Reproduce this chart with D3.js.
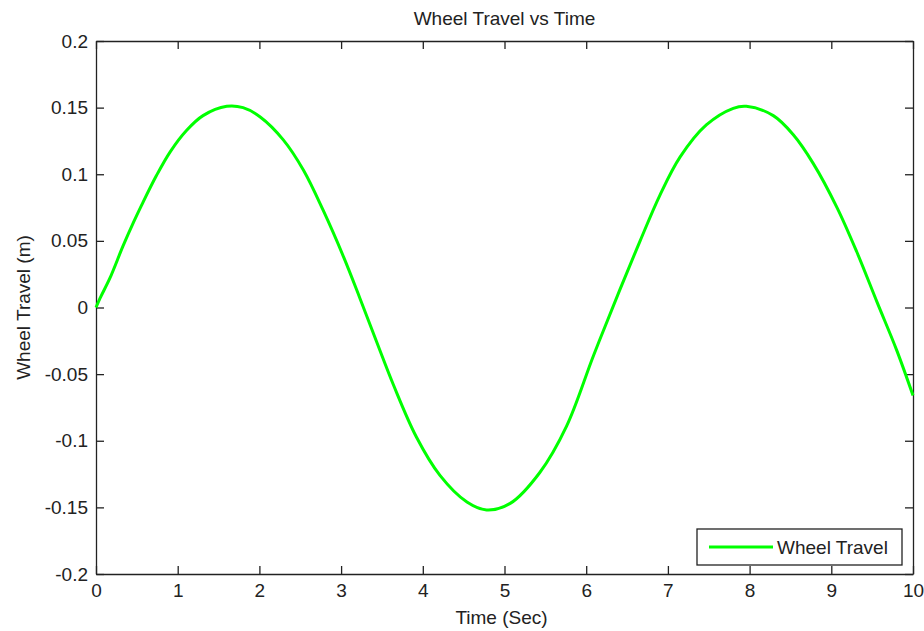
<!DOCTYPE html>
<html>
<head>
<meta charset="utf-8">
<script src="https://cdn.jsdelivr.net/npm/d3@7"></script>
<style>
  body { margin: 0; background: #fff; }
  svg text { font-family: "Liberation Sans", Arial, sans-serif; fill: #222; }
</style>
</head>
<body>
<div id="chart"></div>
<script>
var width = 924,
	height = 631;

var margin = {top: 41, right: 11, bottom: 57, left: 96};

// time (sec)
var time = [0, 0.05, 0.17, 0.33, 0.46, 0.56, 0.74, 0.91, 1.11, 1.31, 1.60, 1.80,
	2.01, 2.29, 2.54, 2.78, 3.03, 3.23, 3.43, 3.64, 3.92, 4.21, 4.54,
	4.78, 5.07, 5.43, 5.76, 6.09, 6.41, 6.66, 6.90, 7.15, 7.47, 7.80,
	7.96, 8.29, 8.53, 8.78, 9.07, 9.31, 9.56, 9.80, 10];

// wheel travel (m)
var travel = [0, 0.007, 0.022, 0.046, 0.064, 0.077, 0.099, 0.117, 0.133, 0.144, 0.151, 0.150,
	0.143, 0.126, 0.103, 0.073, 0.038, 0.007, -0.025, -0.058, -0.097, -0.126, -0.146,
	-0.152, -0.147, -0.124, -0.089, -0.036, 0.013, 0.050, 0.084, 0.113, 0.137, 0.1495,
	0.151, 0.144, 0.130, 0.108, 0.075, 0.042, 0.004, -0.032, -0.066];

var xTicks = [0, 1, 2, 3, 4, 5, 6, 7, 8, 9, 10];
var yTicks = [-0.2, -0.15, -0.1, -0.05, 0, 0.05, 0.1, 0.15, 0.2];

var seriesName = "Wheel Travel";

var data = time.map(function(t, i) { return {t: t, v: travel[i]}; });

var x = d3.scaleLinear().domain([0, 10]).range([margin.left, width - margin.right]);
var y = d3.scaleLinear().domain([-0.2, 0.2]).range([height - margin.bottom, margin.top]);

var svg = d3.select("#chart").append("svg")
	.attr("width", width)
	.attr("height", height);

var tickLen = 8;
// plain hyphen minus like matlab
var fmt = function(d) { return String(+d.toFixed(2)); };

// bottom / top / left / right axes, ticks pointing inward like matlab
svg.append("g")
	.attr("transform", "translate(0," + y(-0.2) + ")")
	.call(d3.axisBottom(x).tickValues(xTicks).tickSizeInner(-tickLen).tickSizeOuter(0).tickPadding(10).tickFormat(fmt));
svg.append("g")
	.attr("transform", "translate(0," + y(0.2) + ")")
	.call(d3.axisTop(x).tickValues(xTicks).tickSizeInner(-tickLen).tickSizeOuter(0).tickFormat(""));
svg.append("g")
	.attr("transform", "translate(" + x(0) + ",0)")
	.call(d3.axisLeft(y).tickValues(yTicks).tickSizeInner(-tickLen).tickSizeOuter(0).tickPadding(8).tickFormat(fmt));
svg.append("g")
	.attr("transform", "translate(" + x(10) + ",0)")
	.call(d3.axisRight(y).tickValues(yTicks).tickSizeInner(-tickLen).tickSizeOuter(0).tickFormat(""));

svg.selectAll(".domain, .tick line").attr("stroke", "#222").attr("stroke-width", 1.3);
svg.selectAll(".tick text").attr("font-size", 19).attr("font-family", "Liberation Sans, Arial, sans-serif").attr("fill", "#222");

// the curve
var line = d3.line()
	.x(function(d) { return x(d.t); })
	.y(function(d) { return y(d.v); })
	.curve(d3.curveCatmullRom);

svg.append("path")
	.datum(data)
	.attr("fill", "none")
	.attr("stroke", "#00ff00")
	.attr("stroke-width", 3)
	.attr("d", line);

// titles
svg.append("text")
	.attr("x", (x(0) + x(10)) / 2)
	.attr("y", 25)
	.attr("text-anchor", "middle")
	.attr("font-size", 19)
	.text("Wheel Travel vs Time");

svg.append("text")
	.attr("x", (x(0) + x(10)) / 2 - 3)
	.attr("y", 624)
	.attr("text-anchor", "middle")
	.attr("font-size", 19)
	.text("Time (Sec)");

svg.append("text")
	.attr("transform", "translate(30," + y(0) + ") rotate(-90)")
	.attr("text-anchor", "middle")
	.attr("font-size", 19)
	.text("Wheel Travel (m)");

// legend
var lg = svg.append("g").attr("transform", "translate(697,529)");
lg.append("rect")
	.attr("width", 205)
	.attr("height", 36)
	.attr("fill", "#fff")
	.attr("stroke", "#222")
	.attr("stroke-width", 1.3);
lg.append("line")
	.attr("x1", 12).attr("x2", 76)
	.attr("y1", 18).attr("y2", 18)
	.attr("stroke", "#00ff00")
	.attr("stroke-width", 3);
lg.append("text")
	.attr("x", 80)
	.attr("y", 25)
	.attr("font-size", 19)
	.text(seriesName);
</script>
</body>
</html>
